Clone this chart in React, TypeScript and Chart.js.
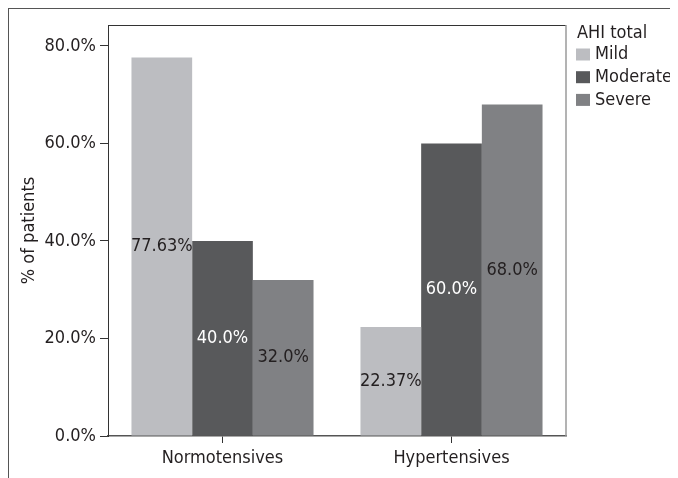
import React, { useEffect, useRef } from "react";
import { Chart, registerables } from "chart.js";

Chart.register(...registerables);

const categories = ["Normotensives", "Hypertensives"];
const seriesNames = ["Mild", "Moderate", "Severe"];
const mildValues = [77.63, 22.37];
const moderateValues = [40.0, 60.0];
const severeValues = [32.0, 68.0];
const valueLabels = [
  ["77.63%", "22.37%"],
  ["40.0%", "60.0%"],
  ["32.0%", "68.0%"],
];
const yTicks = [0, 20, 40, 60, 80];
const legendTitle = "AHI total";
const yTitle = "% of patients";

const colors = ["#bcbdc1", "#58595b", "#808184"];
const labelColors = ["#231f20", "#ffffff", "#231f20"];
const FONT = "'Liberation Sans Narrow', 'DejaVu Sans Condensed', 'Roboto', sans-serif";

const valueLabelPlugin = {
  id: "valueLabels",
  afterDatasetsDraw(chart: any) {
    const ctx = chart.ctx;
    ctx.save();
    ctx.font = `18px ${FONT}`;
    ctx.textAlign = "center";
    ctx.textBaseline = "middle";
    chart.data.datasets.forEach((ds: any, di: number) => {
      const meta = chart.getDatasetMeta(di);
      meta.data.forEach((bar: any, i: number) => {
        ctx.fillStyle = labelColors[di];
        ctx.fillText(valueLabels[di][i], bar.x, (bar.y + bar.base) / 2);
      });
    });
    ctx.restore();
  },
};

const frameAndLegendPlugin = {
  id: "frameLegend",
  afterDraw(chart: any) {
    const { ctx, chartArea } = chart;
    ctx.save();
    // top and right edges of plot box
    ctx.lineWidth = 1;
    ctx.strokeStyle = "#333333";
    ctx.beginPath();
    ctx.moveTo(chartArea.left, chartArea.top + 0.5);
    ctx.lineTo(chartArea.right, chartArea.top + 0.5);
    ctx.stroke();
    ctx.strokeStyle = "#9a9a9a";
    ctx.lineWidth = 1.5;
    ctx.beginPath();
    ctx.moveTo(chartArea.right, chartArea.top);
    ctx.lineTo(chartArea.right, chartArea.bottom);
    ctx.stroke();
    // legend
    const x0 = chartArea.right + 10;
    ctx.font = `18px ${FONT}`;
    ctx.textBaseline = "middle";
    ctx.textAlign = "left";
    ctx.fillStyle = "#231f20";
    ctx.fillText(legendTitle, x0 + 1, chartArea.top + 8);
    chart.data.datasets.forEach((ds: any, i: number) => {
      const cy = chartArea.top + 29.5 + i * 22.7;
      ctx.fillStyle = ds.backgroundColor;
      ctx.fillRect(x0, cy - 6, 14, 12);
      ctx.fillStyle = "#231f20";
      ctx.fillText(ds.label, x0 + 19, cy);
    });
    ctx.restore();
  },
};

export default function App() {
  const canvasRef = useRef<HTMLCanvasElement | null>(null);

  useEffect(() => {
    document.documentElement.style.overflow = "hidden";
    const canvas = canvasRef.current;
    if (!canvas) return;
    const chart = new Chart(canvas, {
      type: "bar",
      data: {
        labels: categories,
        datasets: [
          { label: seriesNames[0], data: mildValues, backgroundColor: colors[0] },
          { label: seriesNames[1], data: moderateValues, backgroundColor: colors[1] },
          { label: seriesNames[2], data: severeValues, backgroundColor: colors[2] },
        ],
      },
      options: {
        animation: false,
        responsive: true,
        maintainAspectRatio: false,
        layout: { padding: { top: 16, right: 112, left: 0, bottom: 0 } },
        datasets: {
          bar: { categoryPercentage: 0.795, barPercentage: 1.0, borderWidth: 0 },
        },
        plugins: {
          legend: { display: false },
          tooltip: { enabled: false },
        },
        scales: {
          x: {
            grid: {
              display: true,
              drawOnChartArea: false,
              drawTicks: true,
              offset: false,
              tickLength: 7,
              color: "#333333",
            },
            border: { display: true, color: "#555555", width: 1.5 },
            ticks: {
              color: "#231f20",
              font: { family: FONT, size: 18 },
              padding: 5,
            },
            afterFit(scale: any) {
              scale.height = 42;
            },
          },
          y: {
            min: 0,
            max: 84.3,
            afterBuildTicks(scale: any) {
              scale.ticks = yTicks.map((v) => ({ value: v }));
            },
            grid: {
              display: true,
              drawOnChartArea: false,
              drawTicks: true,
              tickLength: 8,
              color: "#333333",
            },
            border: { display: true, color: "#333333", width: 1 },
            ticks: {
              color: "#231f20",
              font: { family: FONT, size: 18 },
              padding: 4,
              callback: (v: any) => Number(v).toFixed(1) + "%",
            },
            title: {
              display: true,
              text: yTitle,
              color: "#231f20",
              font: { family: FONT, size: 18 },
              padding: { top: 10, bottom: 0 },
            },
            afterFit(scale: any) {
              scale.width = 99;
            },
          },
        },
      },
      plugins: [valueLabelPlugin, frameAndLegendPlugin],
    });
    return () => chart.destroy();
  }, []);

  return (
    <div
      style={{
        position: "relative",
        width: 670,
        height: 470,
        boxSizing: "border-box",
        borderTop: "1px solid #555555",
        borderLeft: "1px solid #555555",
        background: "#ffffff",
      }}
    >
      <div style={{ position: "relative", width: 669, height: 469 }}>
        <canvas ref={canvasRef} />
      </div>
    </div>
  );
}
